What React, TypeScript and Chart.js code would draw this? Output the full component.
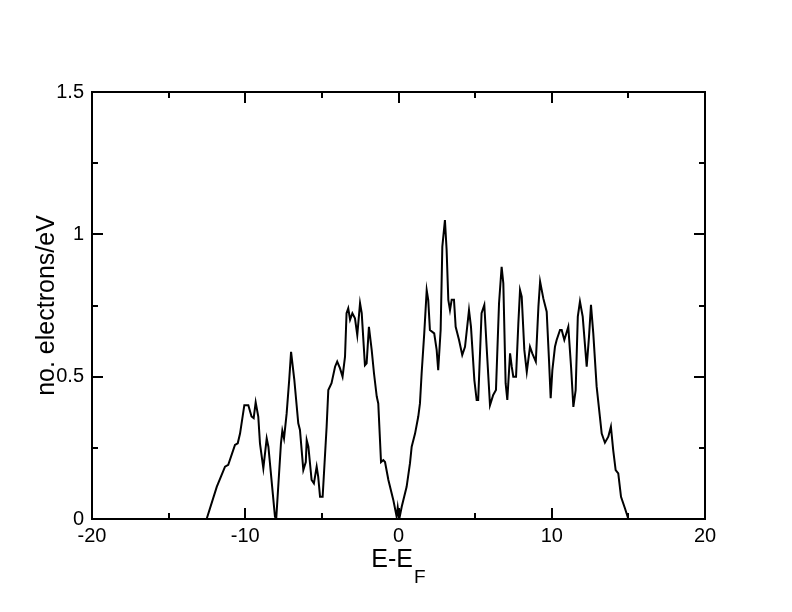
import React, { useEffect, useRef } from "react";
import { Chart, registerables } from "chart.js";

Chart.register(...registerables);

const energies = [
  -12.52, -11.86, -11.32, -11.11, -10.67, -10.49, -10.34, -10.06, -9.8, -9.59,
  -9.45, -9.32, -9.15, -9.04, -8.82, -8.6, -8.49, -8.06, -7.98, -7.67,
  -7.58, -7.47, -7.3, -7.13, -7.01, -6.8, -6.54, -6.43, -6.21, -6.05,
  -5.99, -5.88, -5.67, -5.52, -5.34, -5.24, -5.12, -4.95, -4.69, -4.58,
  -4.37, -4.14, -4.0, -3.82, -3.65, -3.49, -3.39, -3.28, -3.16, -3.01,
  -2.84, -2.69, -2.51, -2.4, -2.19, -2.08, -1.93, -1.75, -1.6, -1.42,
  -1.32, -1.14, -0.99, -0.88, -0.66, -0.34, -0.12, -0.05, 0.05, 0.21,
  0.53, 0.75, 0.86, 1.08, 1.29, 1.4, 1.51, 1.68, 1.84, 1.94,
  2.05, 2.33, 2.49, 2.59, 2.75, 2.86, 3.03, 3.14, 3.25, 3.36,
  3.47, 3.62, 3.73, 3.95, 4.16, 4.34, 4.6, 4.73, 4.95, 5.1,
  5.2, 5.42, 5.6, 5.75, 5.97, 6.18, 6.36, 6.56, 6.73, 6.84,
  6.99, 7.1, 7.28, 7.39, 7.49, 7.67, 7.82, 7.93, 8.04, 8.21,
  8.37, 8.58, 8.73, 8.96, 9.13, 9.24, 9.45, 9.67, 9.82, 9.93,
  10.04, 10.21, 10.32, 10.54, 10.65, 10.82, 11.08, 11.26, 11.41, 11.56,
  11.7, 11.84, 12.02, 12.28, 12.43, 12.56, 12.71, 12.93, 13.26, 13.47,
  13.69, 13.86, 14.01, 14.17, 14.34, 14.52, 14.78, 15.0,
];

const dos = [
  0, 0.113, 0.184, 0.19, 0.26, 0.266, 0.3, 0.4, 0.4, 0.36,
  0.354, 0.41, 0.36, 0.266, 0.178, 0.283, 0.254, 0.008, 0.0, 0.266,
  0.31, 0.283, 0.37, 0.49, 0.587, 0.49, 0.336, 0.313, 0.172, 0.2,
  0.277, 0.254, 0.137, 0.125, 0.184, 0.149, 0.078, 0.078, 0.324, 0.453,
  0.477, 0.535, 0.553, 0.53, 0.5, 0.57, 0.723, 0.74, 0.7, 0.723,
  0.705, 0.646, 0.758, 0.723, 0.54, 0.547, 0.675, 0.594, 0.512, 0.43,
  0.406, 0.2, 0.207, 0.2, 0.137, 0.067, 0.008, 0.04, 0.0, 0.043,
  0.113, 0.196, 0.254, 0.3, 0.36, 0.406, 0.512, 0.652, 0.804, 0.77,
  0.664, 0.652, 0.594, 0.523, 0.664, 0.957, 1.05, 0.945, 0.77, 0.734,
  0.77, 0.77, 0.675, 0.629, 0.576, 0.605, 0.734, 0.675, 0.488, 0.418,
  0.418, 0.723, 0.752, 0.605, 0.4, 0.436, 0.453, 0.758, 0.886, 0.828,
  0.477, 0.418, 0.582, 0.535, 0.5, 0.5, 0.687, 0.804, 0.781, 0.594,
  0.517, 0.605, 0.582, 0.553, 0.746, 0.834, 0.775, 0.728, 0.559, 0.424,
  0.523, 0.605, 0.629, 0.664, 0.664, 0.629, 0.675, 0.535, 0.394, 0.453,
  0.711, 0.764, 0.711, 0.535, 0.64, 0.752, 0.652, 0.465, 0.3, 0.268,
  0.289, 0.324, 0.242, 0.172, 0.16, 0.078, 0.037, 0,
];

const xRange = [-20, 20];
const yRange = [0, 1.5];
const xMajor = 10;
const xMinor = 5;
const yMajor = 0.5;
const yMinor = 0.25;
const yTitle = "no. electrons/eV";
const xTitleMain = "E-E";
const xTitleSub = "F";

const FONT = "'Liberation Sans', Arial, Helvetica, sans-serif";

const framePlugin = {
  id: "frameTicks",
  afterDraw(chart: any) {
    const { ctx, chartArea, scales } = chart;
    const { left, right, top, bottom } = chartArea;
    const xs = scales.x;
    const ys = scales.y;
    ctx.save();
    ctx.strokeStyle = "#000";
    ctx.lineWidth = 2;
    ctx.strokeRect(left, top, right - left, bottom - top);
    ctx.beginPath();
    for (let v = xRange[0]; v <= xRange[1] + 1e-9; v += xMinor) {
      const isMajor = Math.abs(v / xMajor - Math.round(v / xMajor)) < 1e-6;
      const len = isMajor ? 11 : 6;
      const px = Math.round(xs.getPixelForValue(v));
      ctx.moveTo(px, bottom);
      ctx.lineTo(px, bottom - len);
      ctx.moveTo(px, top);
      ctx.lineTo(px, top + len);
    }
    for (let v = yRange[0]; v <= yRange[1] + 1e-9; v += yMinor) {
      const isMajor = Math.abs(v / yMajor - Math.round(v / yMajor)) < 1e-6;
      const len = isMajor ? 11 : 6;
      const py = Math.round(ys.getPixelForValue(v));
      ctx.moveTo(left, py);
      ctx.lineTo(left + len, py);
      ctx.moveTo(right, py);
      ctx.lineTo(right - len, py);
    }
    ctx.stroke();

    // axis titles
    ctx.fillStyle = "#000";
    ctx.textBaseline = "alphabetic";
    ctx.font = `25px ${FONT}`;
    const mainW = ctx.measureText(xTitleMain).width;
    ctx.font = `19px ${FONT}`;
    const subW = ctx.measureText(xTitleSub).width;
    const total = mainW + 1 + subW;
    const cx = (left + right) / 2;
    const startX = cx - total / 2;
    ctx.font = `25px ${FONT}`;
    ctx.textAlign = "left";
    ctx.fillText(xTitleMain, startX, 567);
    ctx.font = `19px ${FONT}`;
    ctx.fillText(xTitleSub, startX + mainW + 1, 583);

    ctx.translate(54, (top + bottom) / 2);
    ctx.rotate(-Math.PI / 2);
    ctx.font = `25px ${FONT}`;
    ctx.textAlign = "center";
    ctx.fillText(yTitle, 0, 0);
    ctx.restore();
  },
};

export default function App() {
  const ref = useRef<HTMLCanvasElement | null>(null);
  useEffect(() => {
    document.body.style.margin = "0";
    const canvas = ref.current;
    if (!canvas) return;
    const points = energies.map((e, i) => ({ x: e, y: dos[i] }));
    const chart = new Chart(canvas, {
      type: "line",
      data: {
        datasets: [
          {
            data: points,
            borderColor: "#000",
            borderWidth: 2,
            pointRadius: 0,
            tension: 0,
            fill: false,
          },
        ],
      },
      options: {
        animation: false,
        responsive: false,
        maintainAspectRatio: false,
        devicePixelRatio: 1,
        layout: { padding: { left: 0, top: 92, right: 87, bottom: 0 } },
        plugins: {
          legend: { display: false },
          tooltip: { enabled: false },
          title: { display: false },
        },
        scales: {
          x: {
            type: "linear",
            min: xRange[0],
            max: xRange[1],
            grid: { display: false, drawTicks: false },
            border: { display: false },
            ticks: {
              stepSize: xMajor,
              color: "#000",
              padding: 5,
              maxRotation: 0,
              font: { family: FONT, size: 20 },
              callback: (v: any) => String(v),
            },
            afterFit: (scale: any) => {
              scale.height = 93;
            },
          },
          y: {
            type: "linear",
            min: yRange[0],
            max: yRange[1],
            grid: { display: false, drawTicks: false },
            border: { display: false },
            ticks: {
              stepSize: yMajor,
              color: "#000",
              padding: 8,
              font: { family: FONT, size: 20 },
              callback: (v: any) => String(v),
            },
            afterFit: (scale: any) => {
              scale.width = 92;
            },
          },
        },
      },
      plugins: [framePlugin],
    });
    return () => chart.destroy();
  }, []);
  return (
    <div style={{ position: "absolute", left: 0, top: 0, width: 792, height: 612, background: "#fff" }}>
      <canvas ref={ref} width={792} height={612} style={{ width: 792, height: 612 }} />
    </div>
  );
}
